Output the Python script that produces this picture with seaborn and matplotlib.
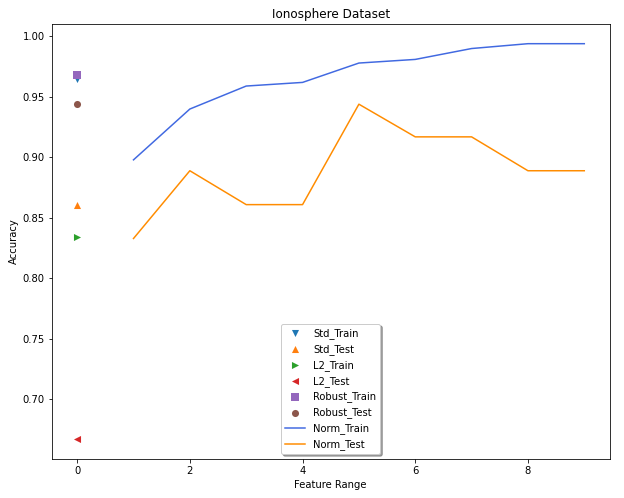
"""
Ionosphere データセットの精度比較グラフ
"""
import matplotlib
matplotlib.use('Agg')
import matplotlib.pyplot as plt
import seaborn as sns

# 単一点の結果 (x = 0)
point_labels = ['Std_Train', 'Std_Test', 'L2_Train', 'L2_Test', 'Robust_Train', 'Robust_Test']
point_values = [0.965, 0.861, 0.834, 0.667, 0.968, 0.944]
point_markers = ['v', '^', '>', '<', 's', 'o']
point_colors = ['tab:blue', 'tab:orange', 'tab:green', 'tab:red', 'tab:purple', 'tab:brown']

# 特徴量範囲ごとの結果
feature_range = [1, 2, 3, 4, 5, 6, 7, 8, 9]
norm_train = [0.898, 0.940, 0.959, 0.962, 0.978, 0.981, 0.990, 0.994, 0.994]
norm_test = [0.833, 0.889, 0.861, 0.861, 0.944, 0.917, 0.917, 0.889, 0.889]

fig, ax = plt.subplots(figsize=(624 / 72, 498 / 72), dpi=72)
fig.subplots_adjust(left=0.083, right=0.977, bottom=0.078, top=0.952)

# 各点をプロット
for label, value, marker, color in zip(point_labels, point_values, point_markers, point_colors):
    sns.scatterplot(x=[0], y=[value], marker=marker, color=color, s=50,
                    linewidth=0, label=label, ax=ax)

# 線をプロット
sns.lineplot(x=feature_range, y=norm_train, color='royalblue', label='Norm_Train', ax=ax)
sns.lineplot(x=feature_range, y=norm_test, color='darkorange', label='Norm_Test', ax=ax)

ax.set_title('Ionosphere Dataset')
ax.set_xlabel('Feature Range')
ax.set_ylabel('Accuracy')
ax.legend(loc='lower center', shadow=True)

plt.savefig('out.png', dpi=72)
plt.close()
